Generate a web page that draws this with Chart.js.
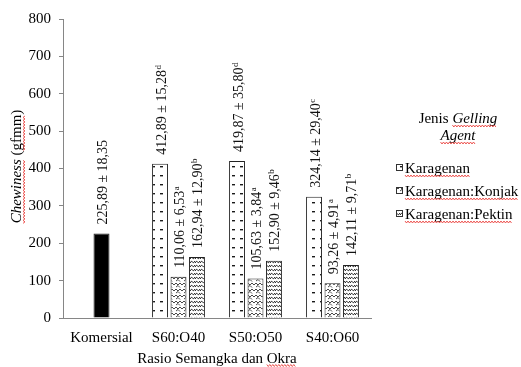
<!DOCTYPE html>
<html>
<head>
<meta charset="utf-8">
<script src="https://cdn.jsdelivr.net/npm/chart.js@4/dist/chart.umd.min.js"></script>
<style>
  html, body { margin: 0; padding: 0; background: #fff; }
  #chewinessChart { display: block; }
</style>
</head>
<body>
<canvas id="chewinessChart" width="521" height="367"></canvas>
<script>
// Chewiness per rasio semangka:okra dan jenis gelling agent
const categories = ['Komersial', 'S60:O40', 'S50:O50', 'S40:O60'];
const seriesNames = ['Komersial', 'Karagenan', 'Karagenan:Konjak', 'Karagenan:Pektin'];

const komersialValues = [225.89, null, null, null];
const komersialSd = [18.35, null, null, null];
const komersialNotes = ['', '', '', ''];

const karagenanValues = [null, 412.89, 419.87, 324.14];
const karagenanSd = [null, 15.28, 35.80, 29.40];
const karagenanNotes = ['', 'd', 'd', 'c'];

const konjakValues = [null, 110.06, 105.63, 93.26];
const konjakSd = [null, 6.53, 3.84, 4.91];
const konjakNotes = ['', 'a', 'a', 'a'];

const pektinValues = [null, 162.94, 152.90, 142.11];
const pektinSd = [null, 12.90, 9.46, 9.71];
const pektinNotes = ['', 'b', 'b', 'b'];

const yTickValues = [0, 100, 200, 300, 400, 500, 600, 700, 800];
const xAxisTitle = 'Rasio Semangka dan Okra';

const SERIF = '"Liberation Serif", "Times New Roman", serif';
const canvas = document.getElementById('chewinessChart');
const ctx = canvas.getContext('2d');

function makePattern(w, h, draw) {
    const c = document.createElement('canvas');
    c.width = w; c.height = h;
    const g = c.getContext('2d');
    g.fillStyle = '#fff';
    g.fillRect(0, 0, w, h);
    g.fillStyle = '#1a1a1a';
    g.strokeStyle = '#1a1a1a';
    draw(g);
    return ctx.createPattern(c, 'repeat');
}

// short horizontal dashes
const dashFill = makePattern(8, 9, function (g) {
    g.fillRect(0, 4, 3, 1.4);
});
// zigzag weave
const zigzagFill = makePattern(8, 6, function (g) {
    g.lineWidth = 0.8;
    g.beginPath();
    g.moveTo(0, 1); g.lineTo(2, 3); g.lineTo(4, 1); g.lineTo(6, 3); g.lineTo(8, 1);
    g.moveTo(0, 5); g.lineTo(2, 3.5); g.lineTo(4, 5.5);
    g.stroke();
});
// dense wave
const waveFill = makePattern(5, 4, function (g) {
    g.lineWidth = 1;
    g.beginPath();
    g.moveTo(0, 3);
    g.quadraticCurveTo(1.5, 0, 2.5, 2);
    g.quadraticCurveTo(3.5, 4, 5, 1);
    g.stroke();
});

const seriesFills = ['#000', dashFill, zigzagFill, waveFill];

function fmt(v) {
    return v.toFixed(2).replace('.', ',');
}

function squiggle(c, x1, x2, y, vertical) {
    c.save();
    c.strokeStyle = '#e8302c';
    c.lineWidth = 0.8;
    c.beginPath();
    let up = true;
    for (let t = x1; t <= x2; t += 1.5) {
        const off = up ? -1 : 1;
        if (vertical) c.lineTo(y + off, t); else c.lineTo(t, y + off);
        up = !up;
    }
    c.stroke();
    c.restore();
}

// value ± sd labels, rotated above each bar
const valueLabels = {
    id: 'valueLabels',
    afterDatasetsDraw(chart) {
        const c = chart.ctx;
        chart.data.datasets.forEach(function (ds, di) {
            const meta = chart.getDatasetMeta(di);
            meta.data.forEach(function (bar, i) {
                const v = ds.data[i];
                if (v == null) return;
                const text = fmt(v) + ' \u00b1 ' + fmt(ds.sd[i]);
                c.save();
                c.translate(bar.x + 5.5, bar.y - 9);
                c.rotate(-Math.PI / 2);
                c.fillStyle = '#111';
                c.textAlign = 'left';
                c.textBaseline = 'alphabetic';
                c.font = '14px ' + SERIF;
                c.fillText(text, 0, 0);
                if (ds.notes[i]) {
                    const w = c.measureText(text).width;
                    c.font = '9px ' + SERIF;
                    c.fillText(ds.notes[i], w + 0.5, -5);
                }
                c.restore();
            });
        });
    }
};

// axis titles and legend drawn by hand (mixed italic text)
const annotations = {
    id: 'annotations',
    afterDraw(chart) {
        const c = chart.ctx;
        const area = chart.chartArea;
        c.save();
        c.fillStyle = '#000';
        c.textBaseline = 'alphabetic';

        // y title
        const cy = (area.top + area.bottom) / 2 - 2;
        c.save();
        c.translate(21, cy);
        c.rotate(-Math.PI / 2);
        c.font = 'italic 15px ' + SERIF;
        const w1 = c.measureText('Chewiness').width;
        c.font = '15px ' + SERIF;
        const w2 = c.measureText(' (gfmm)').width;
        const wg = c.measureText('gfmm').width;
        const start = -(w1 + w2) / 2;
        c.textAlign = 'left';
        c.font = 'italic 15px ' + SERIF;
        c.fillText('Chewiness', start, 0);
        c.font = '15px ' + SERIF;
        c.fillText(' (gfmm)', start + w1, 0);
        const gx = start + w1 + c.measureText(' (').width;
        squiggle(c, start, start + w1, 3, false);
        squiggle(c, gx, gx + wg, 3, false);
        c.restore();

        // x title
        c.font = '15px ' + SERIF;
        c.textAlign = 'left';
        const xw = c.measureText(xAxisTitle).width;
        const xs = (area.left + area.right) / 2 - xw / 2;
        c.fillText(xAxisTitle, xs, 363);
        const okra = xAxisTitle.lastIndexOf('Okra');
        const ox = xs + c.measureText(xAxisTitle.slice(0, okra)).width;
        squiggle(c, ox, ox + c.measureText('Okra').width, 365.5, false);

        // legend title
        const lx = 458;
        c.font = '15px ' + SERIF;
        const jw = c.measureText('Jenis ').width;
        c.font = 'italic 15px ' + SERIF;
        const gw = c.measureText('Gelling').width;
        const l1 = lx - (jw + gw) / 2;
        c.font = '15px ' + SERIF;
        c.fillText('Jenis ', l1, 123);
        c.font = 'italic 15px ' + SERIF;
        c.fillText('Gelling', l1 + jw, 123);
        squiggle(c, l1 + jw, l1 + jw + gw, 126, false);
        const aw = c.measureText('Agent').width;
        c.fillText('Agent', lx - aw / 2, 140);
        squiggle(c, lx - aw / 2, lx + aw / 2, 143, false);

        // legend entries
        const rows = [168, 191, 214];
        chart.data.datasets.slice(1).forEach(function (ds, k) {
            const y = rows[k];
            c.fillStyle = ds.backgroundColor;
            c.fillRect(396, y - 4, 7, 7);
            c.strokeStyle = '#333';
            c.lineWidth = 1;
            c.strokeRect(396.5, y - 3.5, 6, 6);
            c.fillStyle = '#000';
            c.font = '15px ' + SERIF;
            c.fillText(ds.label, 405, y + 5);
            squiggle(c, 405, 405 + c.measureText(ds.label).width, y + 8, false);
        });
        c.restore();
    }
};

const seriesValues = [komersialValues, karagenanValues, konjakValues, pektinValues];
const seriesSd = [komersialSd, karagenanSd, konjakSd, pektinSd];
const seriesNotes = [komersialNotes, karagenanNotes, konjakNotes, pektinNotes];

new Chart(ctx, {
    type: 'bar',
    data: {
        labels: categories,
        datasets: seriesNames.map(function (name, k) {
            return {
                label: name,
                data: seriesValues[k],
                sd: seriesSd[k],
                notes: seriesNotes[k],
                backgroundColor: seriesFills[k],
                borderColor: '#222',
                borderWidth: 1
            };
        })
    },
    options: {
        responsive: false,
        animation: false,
        layout: { padding: { left: 0, right: 150, top: 19, bottom: 0 } },
        datasets: {
            bar: {
                skipNull: true,
                categoryPercentage: 0.72,
                barPercentage: 0.86,
                maxBarThickness: 16
            }
        },
        plugins: {
            legend: { display: false },
            tooltip: { enabled: false }
        },
        scales: {
            x: {
                grid: { display: false, drawTicks: false },
                border: { display: true, color: '#868686', width: 1 },
                ticks: {
                    color: '#000',
                    font: { family: SERIF, size: 15 },
                    padding: 11,
                    maxRotation: 0
                },
                afterFit: function (s) { s.height = 49; }
            },
            y: {
                min: 0,
                max: 800,
                afterBuildTicks: function (s) {
                    s.ticks = yTickValues.map(function (v) { return { value: v }; });
                },
                grid: { drawOnChartArea: false, drawTicks: true, tickLength: 4, color: '#868686' },
                border: { display: true, color: '#868686', width: 1 },
                ticks: {
                    color: '#000',
                    font: { family: SERIF, size: 15 },
                    padding: 8
                },
                afterFit: function (s) { s.width = 63; }
            }
        }
    },
    plugins: [valueLabels, annotations]
});
</script>
</body>
</html>
